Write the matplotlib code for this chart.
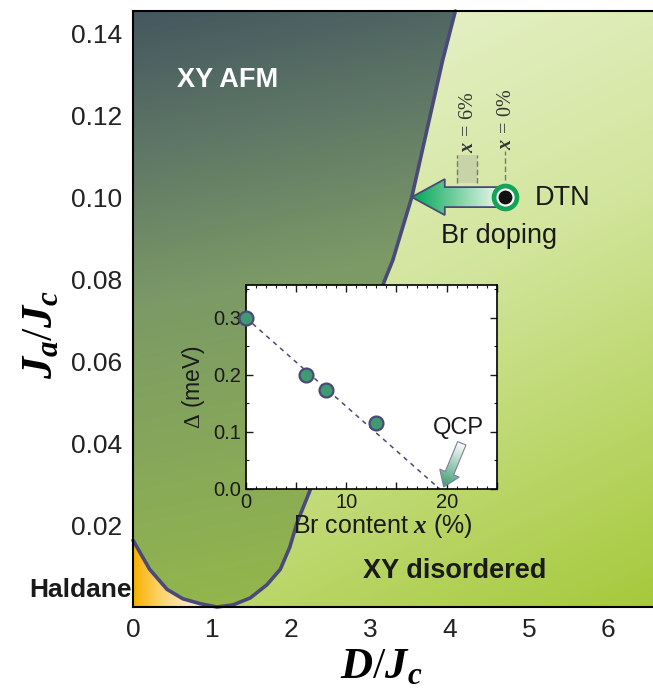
import numpy as np
import matplotlib
matplotlib.use("Agg")
import matplotlib.pyplot as plt
from matplotlib.patches import Polygon, Rectangle
from matplotlib.colors import to_rgb

# ---------------- data ----------------
# phase boundary (XY AFM / others)
bound_x = [0.00, 0.21, 0.43, 0.63, 0.85, 1.06, 1.26, 1.48, 1.69, 1.86, 1.98, 2.07, 2.23, 3.18, 3.28, 3.52, 3.91, 4.07]
bound_y = [0.0163, 0.0092, 0.0043, 0.0020, 0.0008, 0.0000, 0.0005, 0.0022, 0.0054, 0.0092, 0.0146,
           0.0205, 0.0282, 0.0798, 0.0846, 0.1000, 0.1334, 0.1454]
main_xticks = [0, 1, 2, 3, 4, 5, 6]
main_yticks = [0.02, 0.04, 0.06, 0.08, 0.10, 0.12, 0.14]
dtn_x, dtn_y = 4.70, 0.100
doped_x = 4.22          # x = 6% position
arrow_tip_x = 3.52

# inset: gap vs Br content
br_x = [0, 6, 8, 13]
gap = [0.300, 0.200, 0.174, 0.115]
fit_x = [0, 19.3]
fit_y = [0.300, 0.0]
qcp_x = 19.3

# ---------------- style ----------------
plt.rcParams['font.family'] = ['Liberation Sans', 'DejaVu Sans']
plt.rcParams['mathtext.fontset'] = 'custom'
plt.rcParams['mathtext.rm'] = 'Liberation Serif'
plt.rcParams['mathtext.it'] = 'Liberation Serif:italic:bold'
plt.rcParams['mathtext.bf'] = 'Liberation Serif:bold'

W, H = 653, 694
fig = plt.figure(figsize=(W / 100, H / 100), dpi=100)
fig.patch.set_facecolor('white')

XMAX = 522 / 79.2
YMAX = 0.1454
ax = fig.add_axes([133 / W, 87 / H, 522 / W, 596 / H])
ax.set_xlim(0, XMAX)
ax.set_ylim(0, YMAX)


def stops_interp(t, stops):
    t = np.clip(t, 0, 1)
    pos = np.array([s[0] for s in stops])
    cols = np.array([to_rgb(s[1]) for s in stops])
    out = np.zeros(t.shape + (3,))
    for k in range(3):
        out[..., k] = np.interp(t, pos, cols[:, k])
    return out


nx, ny = 500, 500
gx, gy = np.meshgrid(np.linspace(0, XMAX, nx), np.linspace(0, YMAX, ny))

# polygons
bx = np.array(bound_x)
by = np.array(bound_y)
imin = int(np.argmin(by))
afm_poly = Polygon(np.column_stack([np.r_[bx, 0], np.r_[by, YMAX]]), closed=True, transform=ax.transData)
hal_poly = Polygon(np.column_stack([np.r_[bx[:imin + 1], 0], np.r_[by[:imin + 1], 0]]), closed=True,
                   transform=ax.transData)
dis_poly = Polygon(np.column_stack([np.r_[bx[imin:], XMAX, XMAX], np.r_[by[imin:], YMAX, 0]]), closed=True,
                   transform=ax.transData)

# AFM gradient
t_afm = 0.9 * gy / YMAX + 0.1 * (1 - gx / 4.1)
img_afm = stops_interp(t_afm, [(0, '#97ba48'), (0.55, '#7b9a66'), (0.8, '#5d7566'), (1.0, '#44575f')])
im = ax.imshow(img_afm, extent=[0, XMAX, 0, YMAX], origin='lower', aspect='auto', zorder=1)
im.set_clip_path(afm_poly)

# disordered gradient
t_dis = 0.3 * gx / XMAX + 0.7 * (1 - gy / YMAX)
img_dis = stops_interp(t_dis, [(0, '#eef5da'), (0.5, '#d2e59c'), (1.0, '#a5c93b')])
im = ax.imshow(img_dis, extent=[0, XMAX, 0, YMAX], origin='lower', aspect='auto', zorder=1)
im.set_clip_path(dis_poly)

# Haldane gradient
t_hal = gx / 1.0
img_hal = stops_interp(t_hal, [(0, '#f6b000'), (0.3, '#fbd060'), (0.65, '#fde6b4'), (1.0, '#fdf2dc')])
im = ax.imshow(img_hal, extent=[0, XMAX, 0, YMAX], origin='lower', aspect='auto', zorder=1)
im.set_clip_path(hal_poly)

ax.plot(bound_x, bound_y, color='#4a4a78', lw=2.6, zorder=3, solid_capstyle='round',
        solid_joinstyle='round', clip_on=False)

ax.set_xlim(0, XMAX)
ax.set_ylim(0, YMAX)
ax.set_xticks(main_xticks)
ax.set_yticks(main_yticks)
ax.set_yticklabels(['%.2f' % v for v in main_yticks])
ax.tick_params(length=0, labelsize=19, pad=8, colors='#222222')
for s in ['left', 'bottom', 'top', 'right']:
    ax.spines[s].set_linewidth(1.5)
    ax.spines[s].set_zorder(6)
ax.spines['right'].set_visible(False)


def gradient_arrow(a, tail, tip, body_w, head_w, head_len, c_tail, c_tip, ec, lw, zorder):
    T = a.transData
    p0 = T.transform(tail)
    p1 = T.transform(tip)
    d = p1 - p0
    L = np.hypot(*d)
    u = d / L
    n = np.array([-u[1], u[0]])
    hb = p1 - u * head_len
    pts = np.array([p0 + n * body_w / 2, hb + n * body_w / 2, hb + n * head_w / 2, p1,
                    hb - n * head_w / 2, hb - n * body_w / 2, p0 - n * body_w / 2])
    dpts = T.inverted().transform(pts)
    clip = Polygon(dpts, closed=True, transform=a.transData)
    edge = Polygon(dpts, closed=True, fc='none', ec=ec, lw=lw, zorder=zorder + 0.1,
                   transform=a.transData, clip_on=False)
    a.add_patch(edge)
    x0, x1 = dpts[:, 0].min(), dpts[:, 0].max()
    y0, y1 = dpts[:, 1].min(), dpts[:, 1].max()
    qx, qy = np.meshgrid(np.linspace(x0, x1, 200), np.linspace(y0, y1, 200))
    disp = T.transform(np.column_stack([qx.ravel(), qy.ravel()]))
    t = ((disp - p0) @ u / L).reshape(qx.shape)
    t = np.clip(t, 0, 1)
    ct = np.array(to_rgb(c_tail))
    cp = np.array(to_rgb(c_tip))
    img = ct[None, None, :] * (1 - t[..., None]) + cp[None, None, :] * t[..., None]
    img = np.clip(img, 0, 1)
    im2 = a.imshow(img, extent=[x0, x1, y0, y1], origin='lower', aspect='auto', zorder=zorder,
                   interpolation='bilinear')
    im2.set_clip_path(clip)
    im2.set_clip_on(True)


# x = 6% box and x = 0% line
ypx = YMAX / 596
ax.add_patch(Rectangle((doped_x - 0.125, dtn_y + 14 * ypx), 0.25, 28 * ypx, fc='#c9d3a8', ec='none', zorder=4))
for xx in [doped_x - 0.125, doped_x + 0.125]:
    ax.plot([xx, xx], [dtn_y + 14 * ypx, dtn_y + 42 * ypx], color='#777777', lw=1, ls=(0, (4, 2)), zorder=4)
ax.plot([dtn_x, dtn_x], [dtn_y + 17 * ypx, dtn_y + 46 * ypx], color='#777777', lw=1, ls=(0, (4, 2)), zorder=4)
ax.text(doped_x, dtn_y + 44 * ypx, r'$x\,=\,6\%$', rotation=90, ha='center', va='bottom', fontsize=14.5,
        color='#333333', zorder=5)
ax.text(dtn_x, dtn_y + 47 * ypx, r'$x\,=\,0\%$', rotation=90, ha='center', va='bottom', fontsize=14.5,
        color='#333333', zorder=5)

# Br doping arrow
gradient_arrow(ax, (dtn_x - 0.07, dtn_y), (arrow_tip_x, dtn_y), 20, 36, 33, '#eef8ee', '#00a656',
               '#4a4a78', 1.3, 4)

# DTN marker
ax.plot([dtn_x], [dtn_y], 'o', ms=16.5, mfc='white', mec='#13a456', mew=3.4, zorder=5, clip_on=False)
ax.plot([dtn_x], [dtn_y], 'o', ms=9.0, mfc='#111111', mec='#111111', zorder=5.1, clip_on=False)
ax.text(5.43, dtn_y - 0.0003, 'DTN', fontsize=19.5, ha='center', va='center', color='#1a1a1a', zorder=5)
ax.text(4.62, 0.0905, 'Br doping', fontsize=19.5, ha='center', va='center', color='#1a1a1a', zorder=5)

# phase labels
ax.text(1.20, 0.1285, 'XY AFM', fontsize=19.5, fontweight='bold', color='white', ha='center', va='center',
        zorder=5)
ax.text(4.06, 0.0088, 'XY disordered', fontsize=19.5, fontweight='bold', color='#1a1a1a', ha='center',
        va='center', zorder=5)
ax.text(-0.02, 0.0042, 'Haldane', fontsize=19, fontweight='bold', color='#1a1a1a', ha='right',
        va='center', zorder=5, clip_on=False)

# axis labels
fig.text(381 / W, 1 - 667 / H, r'$D/J_c$', fontsize=32, ha='center', va='center')
fig.text(40 / W, 1 - 335 / H, r'$J_a/J_c$', fontsize=32, ha='center', va='center', rotation=90)

# ---------------- inset ----------------
axi = fig.add_axes([245.7 / W, (H - 489) / H, (497 - 245.7) / W, (489 - 285) / H], zorder=5)
axi.set_facecolor('white')
axi.set_xlim(0, 25)
axi.set_ylim(0, 0.357)
axi.plot(fit_x, fit_y, color='#4a4a78', lw=1.1, ls=(0, (3, 3)), zorder=2)
axi.plot(br_x, gap, 'o', ms=10, mfc='#3e9a70', mec='#4a4a78', mew=1.6, zorder=4, clip_on=False)
axi.set_xticks([0, 5, 10, 15, 20, 25])
axi.set_xticklabels(['0', '', '10', '', '20', ''])
axi.set_xticks(np.arange(0, 26, 1), minor=True)
axi.set_yticks([0.0, 0.1, 0.2, 0.3])
axi.set_yticklabels(['0.0', '0.1', '0.2', '0.3'])
axi.set_yticks(np.arange(0, 0.36, 0.05), minor=True)
axi.tick_params(which='both', direction='in', top=True, right=True, labelsize=14.5, pad=3, colors='#1a1a1a')
axi.tick_params(which='major', length=5, width=1)
axi.tick_params(which='minor', length=2.5, width=0.8)
for s in axi.spines.values():
    s.set_linewidth(1.2)
axi.set_xlabel(r'Br content $x$ (%)', fontsize=18, labelpad=1, color='#1a1a1a')
axi.set_ylabel(r'$\Delta$ (meV)', fontsize=16.5, labelpad=2, color='#1a1a1a')
axi.xaxis.set_label_coords(0.545, -0.115)
axi.yaxis.set_label_coords(-0.155, 0.5)
axi.text(21.2, 0.107, 'QCP', fontsize=17, ha='center', va='center', color='#1a1a1a', zorder=5)
gradient_arrow(axi, (21.5, 0.080), (19.7, 0.0035), 9, 21, 15, '#ffffff', '#3e9a70', '#7a7fa0', 0.8, 5)

fig.savefig('out.png', dpi=100)
